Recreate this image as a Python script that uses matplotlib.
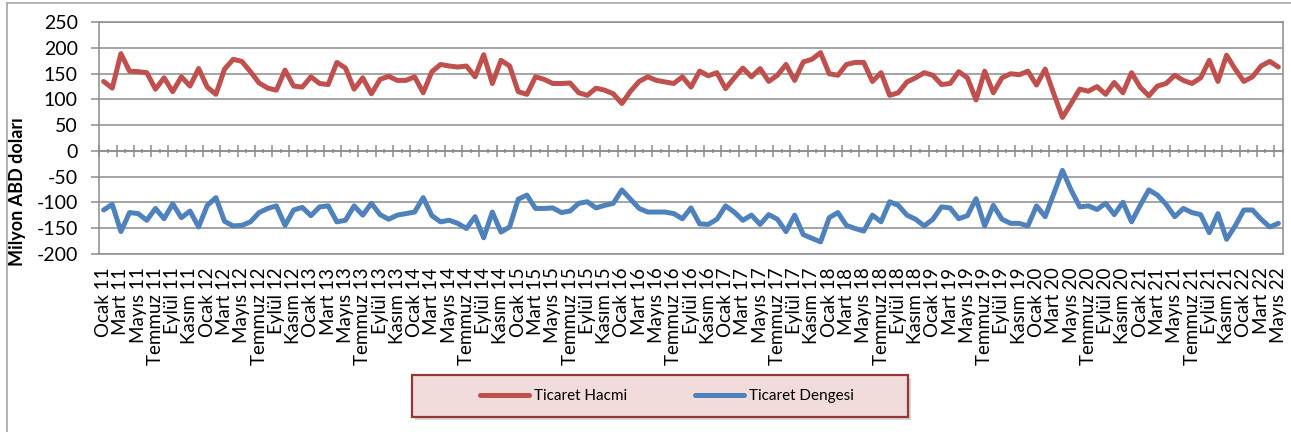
import numpy as np
import matplotlib
matplotlib.use("Agg")
import matplotlib.pyplot as plt
from matplotlib.lines import Line2D
from matplotlib.patches import Rectangle
from matplotlib.ticker import FixedLocator

plt.rcParams['font.family'] = ['Lato', 'DejaVu Sans']
plt.rcParams['axes.unicode_minus'] = False

# ---- data ----
months_tr = ['Ocak', 'Şubat', 'Mart', 'Nisan', 'Mayıs', 'Haziran',
             'Temmuz', 'Ağustos', 'Eylül', 'Ekim', 'Kasım', 'Aralık']
years = list(range(2011, 2023))
categories = [f"{m} {y % 100:02d}" for y in years for m in months_tr][:137]  # Ocak 11 .. Mayıs 22

ticaret_hacmi = [
    135, 122, 189, 155, 154, 152, 120, 142, 115, 144,
    126, 160, 124, 110, 159, 178, 174, 154, 132, 122,
    118, 157, 126, 124, 144, 131, 129, 172, 161, 120,
    142, 111, 139, 145, 137, 137, 144, 113, 154, 168,
    165, 163, 165, 144, 187, 131, 176, 165, 115, 110,
    144, 139, 131, 131, 132, 113, 108, 122, 118, 111,
    92, 116, 135, 144, 137, 134, 131, 144, 124, 155,
    146, 152, 121, 142, 161, 144, 160, 135, 147, 168,
    137, 173, 178, 191, 150, 147, 168, 172, 172, 135,
    152, 108, 113, 134, 142, 152, 147, 129, 131, 154,
    142, 99, 155, 113, 142, 150, 148, 155, 128, 159,
    111, 65, 92, 120, 116, 125, 110, 133, 113, 152,
    124, 107, 126, 131, 147, 137, 131, 142, 176, 135,
    186, 159, 135, 144, 165, 174, 163]

ticaret_dengesi = [
    -115, -104, -157, -120, -122, -135, -112, -132, -103, -130,
    -117, -148, -106, -91, -137, -146, -145, -138, -120, -112,
    -107, -145, -115, -110, -126, -109, -107, -138, -135, -107,
    -125, -102, -124, -133, -125, -122, -119, -91, -126, -138,
    -135, -141, -151, -128, -169, -119, -158, -148, -94, -86,
    -112, -112, -111, -120, -117, -102, -99, -111, -106, -102,
    -76, -94, -112, -119, -119, -119, -122, -132, -111, -142,
    -143, -133, -107, -119, -135, -125, -143, -124, -133, -157,
    -125, -163, -170, -177, -130, -120, -145, -151, -156, -125,
    -138, -99, -106, -125, -133, -146, -133, -109, -111, -132,
    -126, -93, -146, -106, -133, -141, -141, -146, -107, -128,
    -83, -38, -76, -109, -107, -114, -102, -124, -100, -138,
    -106, -76, -86, -104, -128, -112, -120, -124, -159, -122,
    -172, -146, -115, -115, -133, -148, -141]

series_names = ['Ticaret Hacmi', 'Ticaret Dengesi']
y_ticks = [-200, -150, -100, -50, 0, 50, 100, 150, 200, 250]
y_title = 'Milyon ABD doları'

# ---- style ----
W, H = 1291, 432
RED = '#C0504D'
BLUE = '#4F81BD'
GRID = '#8C8C8C'
LW = 3.6

fig = plt.figure(figsize=(W / 100, H / 100), dpi=100)
fig.patch.set_facecolor('white')

ax = fig.add_axes([99.3 / W, 1 - 253.7 / H, 1183.4 / W, 231.4 / H])
x = np.arange(len(categories))
l1, = ax.plot(x, ticaret_hacmi, color=RED, lw=LW, solid_joinstyle='round',
              solid_capstyle='round', zorder=3)
l2, = ax.plot(x, ticaret_dengesi, color=BLUE, lw=LW, solid_joinstyle='round',
              solid_capstyle='round', zorder=3)

ax.set_xlim(-0.5, len(categories) - 0.5)
ax.set_ylim(y_ticks[0], y_ticks[-1])
ax.set_yticks(y_ticks)
ax.yaxis.grid(True, color=GRID, lw=1.1)
ax.set_axisbelow(True)
for s in ax.spines.values():
    s.set_color(GRID)
    s.set_linewidth(1.1)
ax.tick_params(axis='y', direction='out', length=5.5, width=1.1, color=GRID,
               pad=10, labelsize=14, labelcolor='black')

ax.set_xticks(x[::2])
ax.set_xticklabels(categories[::2], rotation=90)
ax.tick_params(axis='x', length=0, pad=10, labelsize=13.5, labelcolor='black')

# category axis crossing at zero with tick marks
y0, y1 = ax.get_ylim()
sec = ax.secondary_xaxis((0 - y0) / (y1 - y0))
sec.set_xticks(np.arange(-0.5, len(categories) + 0.5, 2))
sec.xaxis.set_minor_locator(FixedLocator(np.arange(0.5, len(categories), 2)))
sec.tick_params(which='major', direction='inout', length=8.5, width=1.1,
                color=GRID, labelbottom=False)
sec.tick_params(which='minor', direction='inout', length=3.5, width=1.1,
                color=GRID)
sec.set_xticklabels([])
for s in sec.spines.values():
    s.set_color(GRID)
    s.set_linewidth(1.1)

# y title
fig.text(18 / W, 1 - 192 / H, y_title, rotation=90, ha='center', va='center',
         fontsize=13, fontweight='bold')

# legend box
lx0, ly0, lx1, ly1 = 411.7, 375.0, 908.3, 416.7
shadow = Rectangle((lx0 / W + 3 / W, 1 - ly1 / H - 3 / H), (lx1 - lx0) / W, (ly1 - ly0) / H,
                   transform=fig.transFigure, facecolor='#BDBDBD', edgecolor='none',
                   alpha=0.6, zorder=1)
box = Rectangle((lx0 / W, 1 - ly1 / H), (lx1 - lx0) / W, (ly1 - ly0) / H,
                transform=fig.transFigure, facecolor='#F2DCDB', edgecolor='#953735',
                lw=1.6, zorder=2)
fig.add_artist(shadow)
fig.add_artist(box)
leg = fig.legend([l1, l2], series_names, loc='center',
                 bbox_to_anchor=(667 / W, 1 - 396 / H), ncol=2, frameon=False,
                 handlelength=3.2, handletextpad=0.35, columnspacing=4.4,
                 fontsize=11)
leg.set_zorder(5)

# outer chart border
fig.add_artist(Line2D([7 / W, 7 / W], [0, 1 - 3 / H], transform=fig.transFigure,
                      color='#A6A6A6', lw=1.2))
fig.add_artist(Line2D([7 / W, 1], [1 - 3 / H, 1 - 3 / H], transform=fig.transFigure,
                      color='#A6A6A6', lw=1.2))

fig.savefig('out.png', dpi=100)
